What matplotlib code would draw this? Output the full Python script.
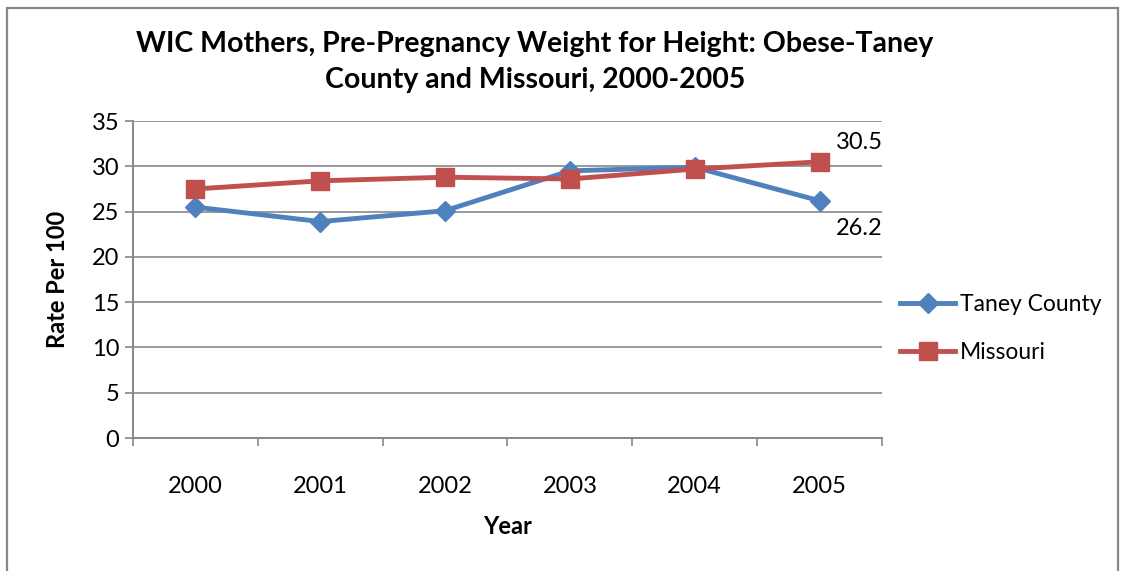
import matplotlib.pyplot as plt
from matplotlib.patches import Rectangle

plt.rcParams['font.family'] = ['Lato', 'DejaVu Sans']

years = ['2000', '2001', '2002', '2003', '2004', '2005']
taney = [25.5, 23.9, 25.1, 29.5, 29.9, 26.2]
missouri = [27.5, 28.4, 28.8, 28.6, 29.7, 30.5]

blue = '#4F81BD'
red = '#C0504D'
grid_col = '#878787'

fig = plt.figure(figsize=(11.25, 5.71), dpi=100)
ax = fig.add_axes([0.1182, 0.2329, 0.6658, 0.5551])

x = list(range(len(years)))
ax.plot(x, taney, color=blue, lw=3.5, marker='D', ms=10, label='Taney County')
ax.plot(x, missouri, color=red, lw=3.5, marker='s', ms=13, label='Missouri')

# labels on the last points
ax.annotate(f'{missouri[-1]}', (x[-1], missouri[-1]), xytext=(12, 14),
            textcoords='offset points', fontsize=17, ha='left', va='center')
ax.annotate(f'{taney[-1]}', (x[-1], taney[-1]), xytext=(12, -20),
            textcoords='offset points', fontsize=17, ha='left', va='center')

ax.set_xlim(-0.5, 5.5)
ax.set_ylim(0, 35)
ax.set_yticks(range(0, 36, 5))
ax.set_xticks(x)
ax.set_xticklabels(years)
ax.set_xticks([i - 0.5 for i in range(7)], minor=True)
ax.tick_params(axis='x', which='major', length=0, pad=27, labelsize=17)
ax.tick_params(axis='x', which='minor', length=6, color=grid_col, width=1.2)
ax.tick_params(axis='y', length=6, color=grid_col, width=1.2, labelsize=17, pad=4)
ax.grid(axis='y', color=grid_col, lw=1.2)
ax.set_axisbelow(True)
for s in ['top', 'right']:
    ax.spines[s].set_visible(False)
for s in ['left', 'bottom']:
    ax.spines[s].set_color(grid_col)
    ax.spines[s].set_linewidth(1.4)

ax.set_xlabel('Year', fontsize=17, fontweight='bold', labelpad=13)
ax.set_ylabel('Rate Per 100', fontsize=17, fontweight='bold', labelpad=16)
fig.text(535 / 1125, 1 - 62 / 571,
         'WIC Mothers, Pre-Pregnancy Weight for Height: Obese-Taney\nCounty and Missouri, 2000-2005',
         fontsize=20.5, fontweight='bold', ha='center', va='center', linespacing=1.45)

ax.legend(loc='center left', bbox_to_anchor=(1.0, 0.345), frameon=False, fontsize=16.5,
          handlelength=2.4, labelspacing=1.15, handletextpad=0.2, borderaxespad=0.4)

# chart border
fig.patches.append(Rectangle((7 / 1125, -0.05), 1111 / 1125, 1 - 8 / 571 + 0.05,
                             transform=fig.transFigure, fill=False,
                             edgecolor=grid_col, lw=1.6))

fig.savefig('out.png', dpi=100)
